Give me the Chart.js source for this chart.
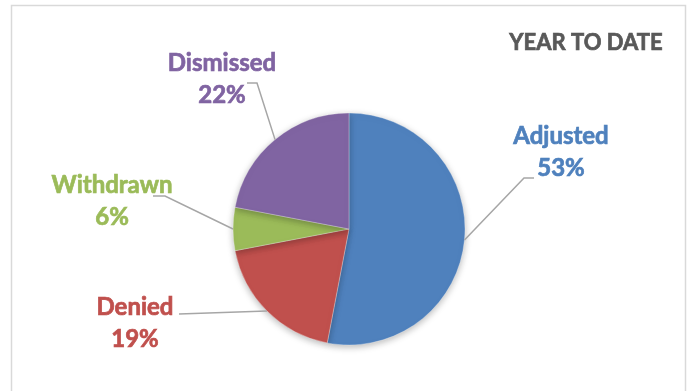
<!DOCTYPE html>
<html lang="en">
<head>
    <meta charset="UTF-8">
    <title>Year to date</title>
    <script src="https://cdn.jsdelivr.net/npm/chart.js"></script>
    <style>
        html, body { margin: 0; padding: 0; background: #fff; }
        .graph { width: 692px; height: 391px; }
    </style>
</head>
<body>
    <div class="graph">
        <canvas id="myChartCanvas" width="692" height="391"></canvas>
    </div>

<script>
    // dados do grafico
    const categorias = ['Adjusted', 'Denied', 'Withdrawn', 'Dismissed'];
    const valores = [53, 19, 6, 22];
    const cores = ['#4F81BD', '#C0504D', '#9BBB59', '#8064A2'];
    const titulo = 'YEAR TO DATE';

    // posicao dos rotulos (relativa ao centro da pizza)
    const rotulos = [
        { quebra: [[175, -51], [185, -51]], texto: [212, -85] },
        { quebra: [[-170, 85]], texto: [-214, 86] },
        { quebra: [[-184, -33], [-196, -33]], texto: [-237, -36] },
        { quebra: [[-92, -146], [-102, -146]], texto: [-127, -158] }
    ];

    // texto um pouco mais pesado, como no original
    function textoForte(ctx, txt, x, y, cor) {
        ctx.fillStyle = cor;
        ctx.strokeStyle = cor;
        ctx.lineWidth = 0.7;
        ctx.fillText(txt, x, y);
        ctx.strokeText(txt, x, y);
    }

    const molduraPlugin = {
        id: 'moldura',
        beforeDraw(chart) {
            const ctx = chart.ctx;
            ctx.save();
            ctx.fillStyle = '#fff';
            ctx.fillRect(0, 0, chart.width, chart.height);
            ctx.strokeStyle = '#d9d9d9';
            ctx.lineWidth = 1.5;
            ctx.strokeRect(11.5, 5.5, 674, 400);
            ctx.font = 'bold 22px Lato';
            ctx.textAlign = 'center';
            textoForte(ctx, titulo, 586, 50, '#595959');
            ctx.restore();
        },
        beforeDatasetsDraw(chart) {
            const ctx = chart.ctx;
            ctx.save();
            ctx.shadowColor = 'rgba(0,0,0,0.28)';
            ctx.shadowBlur = 7;
            ctx.shadowOffsetY = 2;
        },
        afterDatasetsDraw(chart) {
            chart.ctx.restore();
        }
    };

    const rotulosPlugin = {
        id: 'rotulos',
        afterDraw(chart) {
            const ctx = chart.ctx;
            const meta = chart.getDatasetMeta(0);
            const total = valores.reduce((a, b) => a + b, 0);
            ctx.save();
            meta.data.forEach(function (arc, i) {
                const p = arc.getProps(['x', 'y', 'startAngle', 'endAngle', 'outerRadius'], true);
                const meio = (p.startAngle + p.endAngle) / 2;
                const r = rotulos[i];
                // linha guia
                ctx.beginPath();
                ctx.strokeStyle = '#a6a6a6';
                ctx.lineWidth = 1.5;
                ctx.moveTo(p.x + Math.cos(meio) * p.outerRadius, p.y + Math.sin(meio) * p.outerRadius);
                r.quebra.forEach(function (q) { ctx.lineTo(p.x + q[0], p.y + q[1]); });
                ctx.stroke();
                // texto
                ctx.font = 'bold 24px Lato';
                ctx.textAlign = 'center';
                textoForte(ctx, categorias[i], p.x + r.texto[0], p.y + r.texto[1], cores[i]);
                textoForte(ctx, Math.round(valores[i] / total * 100) + '%', p.x + r.texto[0], p.y + r.texto[1] + 32, cores[i]);
            });
            ctx.restore();
        }
    };

    new Chart(document.getElementById('myChartCanvas'), {
        type: 'pie',
        data: {
            labels: categorias,
            datasets: [{
                data: valores,
                backgroundColor: cores,
                borderColor: 'rgba(255,255,255,0.6)',
                borderWidth: 0.5
            }]
        },
        options: {
            responsive: false,
            animation: false,
            radius: 116,
            layout: { padding: { left: 233, right: 227, top: 112, bottom: 45 } },
            plugins: { legend: { display: false }, tooltip: { enabled: false } }
        },
        plugins: [molduraPlugin, rotulosPlugin]
    });
</script>
</body>
</html>
